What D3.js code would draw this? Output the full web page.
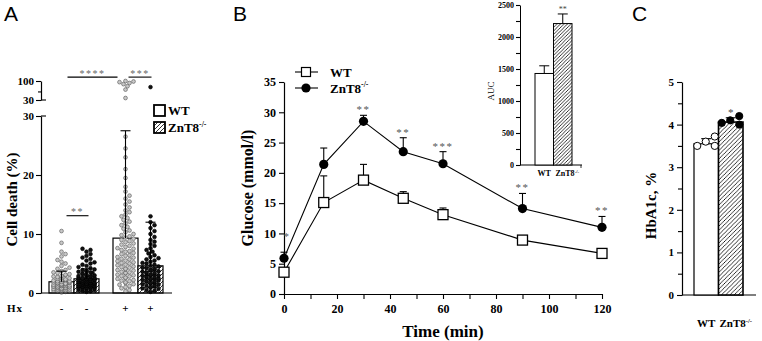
<!DOCTYPE html>
<html><head><meta charset="utf-8">
<script src="https://cdn.jsdelivr.net/npm/d3@7"></script>
<style>body{margin:0;background:#fff}svg{display:block}</style>
</head><body><svg id="c" width="762" height="341"></svg>
<script>
// ---------------- DATA ----------------
// Panel A: cell death (%)
const categoriesA = ["WT-", "ZnT8-", "WT+", "ZnT8+"];
const hxLabelsA = ["-", "-", "+", "+"];
const barMeansA = [1.9, 2.4, 9.3, 4.6];
const barSdA = [1.8, 1.7, 18.2, 7.4];
const cellWTneg = [0.1,0.2,0.3,0.3,0.4,0.5,0.5,0.6,0.6,0.7,0.7,0.8,0.8,0.9,0.9,1.0,1.0,1.0,1.1,1.1,1.2,1.2,1.2,1.3,1.3,1.4,1.4,1.5,1.5,1.5,1.6,1.6,1.7,1.7,1.8,1.8,1.9,2.0,2.0,2.1,2.2,2.2,2.3,2.4,2.5,2.6,2.7,2.8,2.9,3.0,3.1,3.2,3.4,3.5,3.7,3.9,4.1,4.3,4.6,5.0,5.3,5.6,6.2,6.6,7.0,8.5,10.5];
const cellKOneg = [0.2,0.3,0.4,0.5,0.5,0.6,0.7,0.7,0.8,0.8,0.9,0.9,1.0,1.0,1.0,1.1,1.1,1.2,1.2,1.2,1.3,1.3,1.3,1.4,1.4,1.5,1.5,1.5,1.6,1.6,1.6,1.7,1.7,1.8,1.8,1.8,1.9,1.9,2.0,2.0,2.0,2.1,2.1,2.2,2.2,2.3,2.3,2.4,2.4,2.5,2.5,2.6,2.6,2.7,2.8,2.8,2.9,3.0,3.0,3.1,3.2,3.3,3.4,3.5,3.6,3.7,3.8,3.9,4.0,4.2,4.4,4.6,4.8,5.0,5.2,5.5,5.8,6.0,6.3,6.6,7.0,7.3,7.5];
const cellWTpos = [0.3,0.5,0.8,1.0,1.2,1.4,1.5,1.7,1.8,2.0,2.1,2.2,2.4,2.5,2.6,2.8,2.9,3.0,3.1,3.3,3.4,3.5,3.6,3.8,3.9,4.0,4.1,4.3,4.4,4.5,4.7,4.8,5.0,5.1,5.2,5.4,5.5,5.7,5.8,6.0,6.1,6.3,6.4,6.6,6.8,7.0,7.1,7.3,7.5,7.6,7.8,8.0,8.2,8.4,8.6,8.8,9.0,9.2,9.4,9.6,9.8,10.0,10.3,10.6,10.9,11.2,11.5,11.8,12.1,12.4,12.7,13.0,13.3,13.7,14.0,14.5,15.0,15.5,16.0,16.5,17.2,18.0,19.5,21,23,24.5,26.5,34,58,72,82,88,93,97,100];
const cellKOpos = [0.2,0.4,0.5,0.7,0.8,0.9,1.0,1.1,1.2,1.3,1.4,1.5,1.6,1.7,1.8,1.9,2.0,2.0,2.1,2.2,2.3,2.4,2.5,2.5,2.6,2.7,2.8,2.9,3.0,3.0,3.1,3.2,3.3,3.4,3.5,3.6,3.7,3.8,3.9,4.0,4.1,4.2,4.3,4.5,4.6,4.8,5.0,5.1,5.3,5.5,5.7,5.9,6.1,6.4,6.7,7.0,7.3,7.6,8.0,8.3,8.7,9.0,9.5,10.0,10.5,11.0,11.5,12.0,13.0,68];
const pointsA = [cellWTneg, cellKOneg, cellWTpos, cellKOpos];
const ticksAlow = [0, 10, 20, 30];
const ticksAhigh = [30, 100];
const sigA = [ ["WT-", "ZnT8-", "**"], ["WT-", "WT+", "****"], ["WT+", "ZnT8+", "***"] ];

// Panel B: glucose tolerance
const timeB = [0, 15, 30, 45, 60, 90, 120];
const glucWT = [3.6, 15.1, 18.8, 15.8, 13.1, 8.9, 6.7];
const glucWTerr = [0.4, 4.4, 2.6, 1.1, 1.1, 0.4, 0.4];
const glucKO = [5.9, 21.4, 28.5, 23.5, 21.5, 14.1, 11.0];
const glucKOerr = [1.0, 2.7, 1.0, 2.3, 2.0, 2.5, 1.8];
const sigB = ["*", "", "**", "**", "***", "**", "**"];
const ticksBy = [0, 5, 10, 15, 20, 25, 30, 35];
const ticksBx = [0, 20, 40, 60, 80, 100, 120];

// Inset: AUC
const aucCats = ["WT", "ZnT8"];
const aucMeans = [1430, 2210];
const aucErr = [120, 150];
const aucTicks = [0, 500, 1000, 1500, 2000, 2500];

// Panel C: HbA1c
const hbCats = ["WT", "ZnT8"];
const hbMeans = [3.55, 4.06];
const hbErr = [0.12, 0.1];
const hbWT = [3.5, 3.6, 3.72, 3.5];
const hbKO = [4.04, 4.1, 4.2, 4.0];
const hbTicks = [0, 1, 2, 3, 4, 5];

// ---------------- DRAWING ----------------
const svg = d3.select("#c");
const SERIF = "'Liberation Serif','Times New Roman',serif";
const SANS = "'Liberation Sans',Arial,sans-serif";

const defs = svg.append("defs");
function hatch(id, s) {
  const p = defs.append("pattern").attr("id", id).attr("patternUnits", "userSpaceOnUse")
    .attr("width", s).attr("height", s);
  p.append("rect").attr("width", s).attr("height", s).attr("fill", "#fff");
  p.append("path").attr("d", `M${-s/4},${s/4} l${s/2},${-s/2} M0,${s} l${s},${-s} M${s*0.75},${s*1.25} l${s/2},${-s/2}`)
    .attr("stroke", "#000").attr("stroke-width", 0.8);
}
hatch("hA", 4); hatch("hB", 3.5); hatch("hC", 4.2);

function txt(sel, size, bold) {
  return sel.style("font-family", SERIF).style("font-size", size + "px").style("font-weight", bold ? "bold" : "normal");
}
function panelLetter(t, x) {
  svg.append("text").attr("x", x).attr("y", 21).style("font-family", SANS).style("font-size", "21px").text(t);
}
panelLetter("A", 4); panelLetter("B", 233); panelLetter("C", 632);

function styleAxis(g, fs, bold) {
  g.attr("font-family", null).attr("font-size", null);
  g.select(".domain").attr("stroke", "#000").attr("stroke-width", 1.2);
  g.selectAll(".tick line").attr("stroke", "#000").attr("stroke-width", 1.1);
  txt(g.selectAll("text"), fs, bold).attr("fill", "#000");
}
function superLabel(sel, base, sup, fs) {
  sel.append("tspan").text(base);
  sel.append("tspan").attr("dy", -fs * 0.4).style("font-size", (fs * 0.6) + "px").text(sup);
}

// ===== Panel A =====
const yA = d3.scaleLinear().domain([0, 30]).range([293, 116]);
const yAhi = d3.scaleLog().domain([30, 100]).range([100, 81]);
const xOuter = d3.scaleBand().domain(["-", "+"]).range([49, 163]).paddingInner(0.21875);
const xInner = d3.scaleBand().domain(["WT", "ZnT8"]).range([0, xOuter.bandwidth()]);
const xA = c => xOuter(c.slice(-1)) + xInner(c.slice(0, -1));
const bwA = xInner.bandwidth();
const yAval = v => v <= 30 ? yA(v) : yAhi(Math.min(v, 100));

categoriesA.forEach((c, i) => {
  const isKO = c.startsWith("ZnT8");
  svg.append("rect").attr("x", xA(c)).attr("y", yA(barMeansA[i]))
    .attr("width", bwA).attr("height", yA(0) - yA(barMeansA[i]))
    .attr("fill", isKO ? "url(#hA)" : "#fff").attr("stroke", "#000").attr("stroke-width", 1.2);
});
function swarm(vals, cx, r, maxHalf) {
  const placed = [];
  const sorted = vals.slice().sort((a, b) => a - b);
  sorted.forEach(v => {
    const y = yAval(v);
    let best = null, bestOv = 1e9;
    for (let k = 0; k <= 2 * Math.ceil(maxHalf / r); k++) {
      const off = (k % 2 ? 1 : -1) * Math.ceil(k / 2) * r;
      if (Math.abs(off) > maxHalf) continue;
      const x = cx + off;
      let ov = 0;
      placed.forEach(p => { if (Math.hypot(p.x - x, p.y - y) < 2 * r - 0.3) ov++; });
      if (ov === 0) { best = x; bestOv = 0; break; }
      if (ov < bestOv) { bestOv = ov; best = x; }
    }
    placed.push({ x: best, y, v });
  });
  return placed;
}
categoriesA.forEach((c, i) => {
  const isKO = c.startsWith("ZnT8");
  const pts = swarm(pointsA[i], xA(c) + bwA / 2, 2.0, bwA / 2 - 3);
  svg.append("g").selectAll("circle").data(pts).join("circle")
    .attr("cx", d => d.x).attr("cy", d => d.y).attr("r", 1.9)
    .attr("fill", isKO ? "#111" : "#c8c8c8").attr("stroke", isKO ? "#000" : "#555").attr("stroke-width", 0.6);
});
categoriesA.forEach((c, i) => {
  const cx = xA(c) + bwA / 2, top = barMeansA[i] + barSdA[i];
  const g = svg.append("g").attr("stroke", "#000").attr("stroke-width", 1.1);
  g.append("line").attr("x1", cx).attr("x2", cx).attr("y1", yA(barMeansA[i])).attr("y2", yA(top));
  g.append("line").attr("x1", cx - 5).attr("x2", cx + 5).attr("y1", yA(top)).attr("y2", yA(top));
});
const gAl = svg.append("g").attr("transform", "translate(41,0)")
  .call(d3.axisLeft(yA).tickValues(ticksAlow).tickSize(5).tickSizeOuter(0).tickPadding(2));
styleAxis(gAl, 11, true);
gAl.append("line").attr("x1", 0).attr("x2", 5).attr("y1", yA(30)).attr("y2", yA(30)).attr("stroke", "#000").attr("stroke-width", 1.1);
const gAh = svg.append("g").attr("transform", "translate(41,0)")
  .call(d3.axisLeft(yAhi).tickValues(ticksAhigh).tickFormat(d3.format("d")).tickSize(5).tickSizeOuter(0).tickPadding(2));
styleAxis(gAh, 11, true);
gAh.append("line").attr("x1", 0).attr("x2", 5).attr("y1", yAhi(30)).attr("y2", yAhi(30)).attr("stroke", "#000").attr("stroke-width", 1.1);
gAh.append("line").attr("x1", -3).attr("x2", 0).attr("y1", yAhi(50)).attr("y2", yAhi(50)).attr("stroke", "#000").attr("stroke-width", 1.1);
svg.append("line").attr("x1", 41).attr("x2", 172).attr("y1", yA(0)).attr("y2", yA(0)).attr("stroke", "#000").attr("stroke-width", 1.2);
txt(svg.append("text").attr("transform", `translate(17,${yA(15) - 5}) rotate(-90)`).attr("text-anchor", "middle"), 15, true).text("Cell death (%)");
txt(svg.append("text").attr("x", 7).attr("y", 312).attr("letter-spacing", 1), 11, true).text("Hx");
categoriesA.forEach((c, i) => {
  txt(svg.append("text").attr("x", xA(c) + bwA / 2).attr("y", 312).attr("text-anchor", "middle"), 11, true).text(hxLabelsA[i]);
});
const sigAdj = { "**": [5, 2, yA(13.1)], "****": [6, -8, yAhi(128)], "***": [3, 1, yAhi(128)] };
sigA.forEach(([a, b, lab]) => {
  const [d1, d2, yy] = sigAdj[lab];
  const x1 = xA(a) + bwA / 2 + d1, x2 = xA(b) + bwA / 2 + d2;
  svg.append("line").attr("x1", x1).attr("x2", x2).attr("y1", yy).attr("y2", yy).attr("stroke", "#000").attr("stroke-width", 1.1);
  txt(svg.append("text").attr("x", (x1 + x2) / 2).attr("y", yy - 0.5).attr("text-anchor", "middle")
    .attr("fill", "#666").attr("letter-spacing", 1.5), 10, false).text(lab);
});
[["WT", "#fff", 105], ["ZnT8", "url(#hA)", 122]].forEach(([t, f, y]) => {
  svg.append("rect").attr("x", 154).attr("y", y).attr("width", 11).attr("height", 11)
    .attr("fill", f).attr("stroke", "#000").attr("stroke-width", 1.8);
  const tx = txt(svg.append("text").attr("x", 168).attr("y", y + 10), 13, true);
  if (t === "WT") tx.text("WT"); else superLabel(tx, "ZnT8", "-/-", 13);
});

// ===== Panel B =====
const xB = d3.scaleLinear().domain([0, 120]).range([284, 602]);
const yB = d3.scaleLinear().domain([0, 35]).range([294, 82]);
const gBy = svg.append("g").attr("transform", "translate(284,0)")
  .call(d3.axisLeft(yB).tickValues(ticksBy).tickSize(5).tickSizeOuter(0).tickPadding(3));
styleAxis(gBy, 12, true);
const gBx = svg.append("g").attr("transform", "translate(0,294)")
  .call(d3.axisBottom(xB).tickValues(d3.range(0, 121, 10)).tickSize(5).tickSizeOuter(0).tickPadding(5)
    .tickFormat(d => ticksBx.includes(d) ? d : ""));
styleAxis(gBx, 12, true);
txt(svg.append("text").attr("x", xB(60)).attr("y", 337).attr("text-anchor", "middle"), 17, true).text("Time (min)");
txt(svg.append("text").attr("transform", `translate(253,${yB(17.5)}) rotate(-90)`).attr("text-anchor", "middle"), 16, true).text("Glucose (mmol/l)");

function series(vals, errs, isKO) {
  const line = d3.line().x((d, i) => xB(timeB[i])).y(d => yB(d));
  const g = svg.append("g");
  vals.forEach((v, i) => {
    const x = xB(timeB[i]), y0 = yB(v), y1 = yB(v + errs[i]);
    g.append("line").attr("x1", x).attr("x2", x).attr("y1", y0).attr("y2", y1).attr("stroke", "#000").attr("stroke-width", 1.1);
    g.append("line").attr("x1", x - 3.5).attr("x2", x + 3.5).attr("y1", y1).attr("y2", y1).attr("stroke", "#000").attr("stroke-width", 1.1);
  });
  g.append("path").attr("d", line(vals)).attr("fill", "none").attr("stroke", "#000").attr("stroke-width", 1.1);
  vals.forEach((v, i) => {
    const x = xB(timeB[i]), y = yB(v);
    if (isKO) g.append("circle").attr("cx", x).attr("cy", y).attr("r", 4.6).attr("fill", "#000");
    else g.append("rect").attr("x", x - 5).attr("y", y - 5).attr("width", 10).attr("height", 10)
      .attr("fill", "#fff").attr("stroke", "#000").attr("stroke-width", 1.3);
  });
}
series(glucWT, glucWTerr, false);
series(glucKO, glucKOerr, true);
sigB.forEach((s, i) => {
  if (!s) return;
  const top = glucKO[i] + glucKOerr[i];
  const x = xB(timeB[i]) + (i === 0 ? 3 : 0);
  const y = i === 0 ? yB(top + 2.6) + 4 : yB(top) - 2;
  txt(svg.append("text").attr("x", x).attr("y", y).attr("text-anchor", "middle")
    .attr("fill", "#555").attr("letter-spacing", 1.5), 11, false).text(s);
});
[["WT", 72, false], ["ZnT8", 88, true]].forEach(([t, y, ko]) => {
  svg.append("line").attr("x1", 295).attr("x2", 318).attr("y1", y).attr("y2", y).attr("stroke", "#000").attr("stroke-width", 1.1);
  if (ko) svg.append("circle").attr("cx", 306).attr("cy", y).attr("r", 4.6).attr("fill", "#000");
  else svg.append("rect").attr("x", 301.5).attr("y", y - 4.5).attr("width", 9).attr("height", 9).attr("fill", "#fff").attr("stroke", "#000").attr("stroke-width", 1.2);
  const tx = txt(svg.append("text").attr("x", 330).attr("y", y + 4.5), 13, true);
  if (ko) superLabel(tx, "ZnT8", "-/-", 13); else tx.text(t);
});

// ===== Inset AUC =====
const yIn = d3.scaleLinear().domain([0, 2500]).range([165, 5]);
const xIn = d3.scaleBand().domain(aucCats).range([535, 572]);
const gIn = svg.append("g").attr("transform", "translate(520,0)")
  .call(d3.axisLeft(yIn).tickValues(d3.range(0, 2501, 250)).tickSize(4).tickSizeOuter(0).tickPadding(2)
    .tickFormat(d => aucTicks.includes(d) ? d : ""));
styleAxis(gIn, 8, true);
gIn.select(".domain").attr("stroke-width", 1);
svg.append("line").attr("x1", 520).attr("x2", 582).attr("y1", yIn(0)).attr("y2", yIn(0)).attr("stroke", "#000").attr("stroke-width", 1);
svg.append("line").attr("x1", 581).attr("x2", 581).attr("y1", yIn(0)).attr("y2", yIn(0) + 3).attr("stroke", "#000").attr("stroke-width", 0.8);
aucCats.forEach((c, i) => {
  const x = xIn(c), w = xIn.bandwidth(), cx = x + w / 2, top = aucMeans[i] + aucErr[i];
  svg.append("line").attr("x1", cx).attr("x2", cx).attr("y1", yIn(aucMeans[i])).attr("y2", yIn(top)).attr("stroke", "#000").attr("stroke-width", 1);
  svg.append("line").attr("x1", cx - 5).attr("x2", cx + 5).attr("y1", yIn(top)).attr("y2", yIn(top)).attr("stroke", "#000").attr("stroke-width", 1);
  svg.append("rect").attr("x", x).attr("y", yIn(aucMeans[i])).attr("width", w).attr("height", yIn(0) - yIn(aucMeans[i]))
    .attr("fill", i ? "url(#hB)" : "#fff").attr("stroke", "#000").attr("stroke-width", 1);
});
txt(svg.append("text").attr("x", xIn("ZnT8") + xIn.bandwidth() / 2).attr("y", yIn(aucMeans[1] + aucErr[1]) - 1.5)
  .attr("text-anchor", "middle").attr("fill", "#444"), 8, false).text("**");
txt(svg.append("text").attr("transform", `translate(494,91) rotate(-90)`).attr("text-anchor", "middle"), 9, false).text("AUC");
txt(svg.append("text").attr("x", xIn("WT") + xIn.bandwidth() / 2).attr("y", 176).attr("text-anchor", "middle"), 8, true).text("WT");
superLabel(txt(svg.append("text").attr("x", xIn("ZnT8") + 2).attr("y", 176), 8, true), "ZnT8", "-/-", 8);

// ===== Panel C =====
const yC = d3.scaleLinear().domain([0, 5]).range([295, 82]);
const xC = d3.scaleBand().domain(hbCats).range([694, 743]);
const gCy = svg.append("g").attr("transform", "translate(682,0)")
  .call(d3.axisLeft(yC).tickValues(d3.range(0, 5.01, 0.5)).tickSize(5).tickSizeOuter(0).tickPadding(3)
    .tickFormat(d => hbTicks.includes(d) ? d : ""));
styleAxis(gCy, 11, true);
gCy.selectAll(".tick").filter(d => !hbTicks.includes(d)).select("line").attr("x2", -4);
svg.append("line").attr("x1", 682).attr("x2", 756).attr("y1", yC(0)).attr("y2", yC(0)).attr("stroke", "#000").attr("stroke-width", 1.2);
hbCats.forEach((c, i) => {
  const x = xC(c), w = xC.bandwidth(), cx = x + w / 2, top = hbMeans[i] + hbErr[i];
  svg.append("rect").attr("x", x).attr("y", yC(hbMeans[i])).attr("width", w).attr("height", yC(0) - yC(hbMeans[i]))
    .attr("fill", i ? "url(#hC)" : "#fff").attr("stroke", "#000").attr("stroke-width", i ? 1.6 : 1.2);
  svg.append("line").attr("x1", cx).attr("x2", cx).attr("y1", yC(hbMeans[i])).attr("y2", yC(top)).attr("stroke", "#000").attr("stroke-width", 1.1);
  svg.append("line").attr("x1", cx - 5).attr("x2", cx + 5).attr("y1", yC(top)).attr("y2", yC(top)).attr("stroke", "#000").attr("stroke-width", 1.1);
});
const offsC = [-9, -0.5, 8.5, 8.5];
[[hbWT, "WT", "#fff"], [hbKO, "ZnT8", "#000"]].forEach(([vals, c, f]) => {
  const cx = xC(c) + xC.bandwidth() / 2;
  vals.forEach((v, j) => {
    svg.append("circle").attr("cx", cx + offsC[j]).attr("cy", yC(v)).attr("r", 3.6)
      .attr("fill", f).attr("stroke", "#000").attr("stroke-width", 1);
  });
});
txt(svg.append("text").attr("x", xC("ZnT8") + xC.bandwidth() / 2).attr("y", yC(4.25) + 2).attr("text-anchor", "middle")
  .attr("fill", "#444"), 11, false).text("*");
txt(svg.append("text").attr("transform", `translate(656,${yC(2.1)}) rotate(-90)`).attr("text-anchor", "middle"), 15, true).text("HbA1c, %");
txt(svg.append("text").attr("x", xC("WT") + xC.bandwidth() / 2).attr("y", 327).attr("text-anchor", "middle"), 11, true).text("WT");
superLabel(txt(svg.append("text").attr("x", xC("ZnT8") + 1).attr("y", 327), 11, true), "ZnT8", "-/-", 11);
</script></body></html>
